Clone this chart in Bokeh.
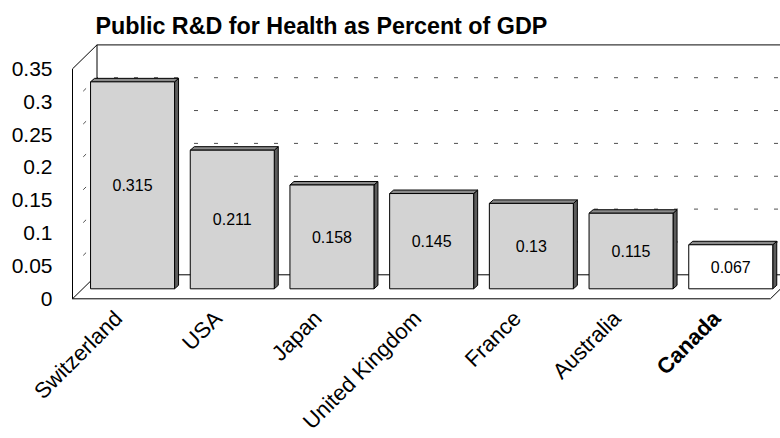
import math
from bokeh.plotting import figure
from bokeh.models import ColumnDataSource, Range1d
from bokeh.core.properties import value
from bokeh.embed import file_html
from bokeh.resources import INLINE

# ---------------- data ----------------
countries = ["Switzerland", "USA", "Japan", "United Kingdom", "France", "Australia", "Canada"]
values = [0.315, 0.211, 0.158, 0.145, 0.13, 0.115, 0.067]
value_labels = ["0.315", "0.211", "0.158", "0.145", "0.13", "0.115", "0.067"]
highlight = "Canada"
y_ticks = [0, 0.05, 0.1, 0.15, 0.2, 0.25, 0.3, 0.35]
y_tick_labels = ["0", "0.05", "0.1", "0.15", "0.2", "0.25", "0.3", "0.35"]
title_text = "Public R&D for Health as Percent of GDP"

# ---------------- layout ----------------
FONT = "Liberation Sans"
W, H = 780, 438
ORIGIN_X = 72.0      # px from left to front y-axis
ORIGIN_Y = 298.3     # px from top to value 0 (front plane)
PX_X = 99.7          # px per category
PX_Y = 657.0         # px per unit of value
X_START, X_END = -ORIGIN_X / PX_X, (W - ORIGIN_X) / PX_X
Y_START, Y_END = -(H - ORIGIN_Y) / PX_Y, ORIGIN_Y / PX_Y

DX, DY = 24.5 / PX_X, 24.0 / PX_Y      # depth of the 3D box
BFX, BFY = 10.2 / PX_X, 10.0 / PX_Y    # bar front face offset
BDX, BDY = 4.0 / PX_X, 3.5 / PX_Y      # bar depth
BHW = 42.0 / PX_X                      # bar half width
YMAX = y_ticks[-1]
n = len(countries)

p = figure(width=W, height=H, output_backend="svg", toolbar_location=None, tools="",
           x_range=Range1d(X_START, X_END), y_range=Range1d(Y_START, Y_END),
           x_axis_location=None, y_axis_location=None,
           min_border=0, outline_line_color=None,
           background_fill_color="white", border_fill_color="white")
p.grid.visible = False

# ---------------- walls & gridlines ----------------
grid_vals = [t for t in y_ticks if 0 < t < YMAX]
p.segment(x0=[DX] * len(grid_vals), y0=[v + DY for v in grid_vals],
          x1=[X_END + 1] * len(grid_vals), y1=[v + DY for v in grid_vals],
          line_color="#505050", line_width=1, line_dash="4 16", line_dash_offset=3)
p.segment(x0=[0] * len(grid_vals), y0=grid_vals,
          x1=[DX] * len(grid_vals), y1=[v + DY for v in grid_vals],
          line_color="#505050", line_width=1, line_dash="4 16", line_dash_offset=5)
# back wall top edge
p.segment(x0=[DX], y0=[YMAX + DY], x1=[X_END + 1], y1=[YMAX + DY],
          line_color="#3a3a3a", line_width=1.3)
# left wall + floor outline
p.segment(x0=[0, 0, 0, DX, 0, n, DX],
          y0=[0, YMAX, 0, DY, 0, 0, DY],
          x1=[0, DX, DX, DX, n, n + DX, n + DX],
          y1=[YMAX, YMAX + DY, DY, YMAX + DY, 0, DY, DY],
          line_color="black", line_width=1)

# ---------------- y tick labels ----------------
p.text(x=[-20.0 / PX_X] * len(y_ticks), y=y_ticks, text=y_tick_labels,
       text_align="right", text_baseline="middle", text_font=value(FONT),
       text_font_size="21px", text_color="black")

# ---------------- bars ----------------
xc = [i + 0.5 + BFX for i in range(n)]
left = [x - BHW for x in xc]
right = [x + BHW for x in xc]
fills = ["white" if c == highlight else "#d3d3d3" for c in countries]

side_xs = [[r, r + BDX, r + BDX, r] for r in right]
side_ys = [[BFY, BFY + BDY, v + BFY + BDY, v + BFY] for v in values]
top_xs = [[l, l + BDX, r + BDX, r] for l, r in zip(left, right)]
top_ys = [[v + BFY, v + BFY + BDY, v + BFY + BDY, v + BFY] for v in values]
p.patches(xs=side_xs, ys=side_ys, fill_color="#5c5c5c", line_color="black", line_width=1)
p.patches(xs=top_xs, ys=top_ys, fill_color="#8a8a8a", line_color="black", line_width=1)

bars = ColumnDataSource(dict(left=left, right=right, bottom=[BFY] * n,
                             top=[v + BFY for v in values], fill=fills,
                             xc=xc, ymid=[BFY + v / 2 for v in values], lab=value_labels))
p.quad(left="left", right="right", bottom="bottom", top="top", source=bars,
       fill_color="fill", line_color="black", line_width=1)
p.text(x="xc", y="ymid", text="lab", source=bars, text_align="center", text_baseline="middle",
       text_font=value(FONT), text_font_size="16px", text_color="black")

# ---------------- category labels ----------------
cats = ColumnDataSource(dict(
    x=[i + 0.5 - 4.0 / PX_X for i in range(n)],
    y=[-15.7 / PX_Y] * n,
    text=countries,
    style=["bold" if c == highlight else "normal" for c in countries]))
p.text(x="x", y="y", text="text", source=cats, angle=math.pi / 4,
       text_align="right", text_baseline="middle", text_font=value(FONT),
       text_font_size="22px", text_font_style="style", text_color="black")

# ---------------- title ----------------
p.text(x=[DX - 1.5 / PX_X], y=[(ORIGIN_Y - 25.7) / PX_Y], text=[title_text],
       text_align="left", text_baseline="alphabetic", text_font=value(FONT),
       text_font_size="23.3px", text_font_style="bold", text_color="black")

open("out.html", "w").write(file_html(p, INLINE))
